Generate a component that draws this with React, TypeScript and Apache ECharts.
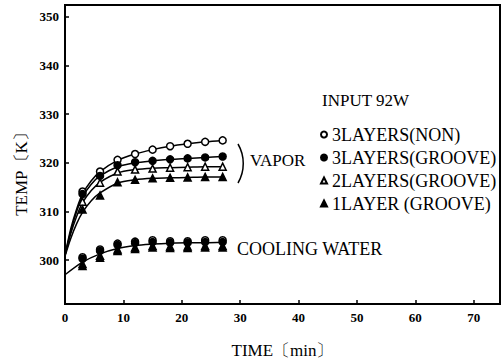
import React, { useEffect, useRef } from "react";
import * as echarts from "echarts";

// sample times (min)
const times = [3, 6, 9, 12, 15, 18, 21, 24, 27];

// vapor temperatures (K)
const vapNon = [314.1, 318.2, 320.6, 321.8, 322.7, 323.4, 323.9, 324.3, 324.6];
const vapGroove3 = [313.6, 317.3, 319.5, 320.1, 320.4, 320.7, 320.9, 321.1, 321.3];
const vapGroove2 = [312.0, 315.9, 318.2, 318.6, 318.8, 319.0, 319.1, 319.2, 319.2];
const vapGroove1 = [310.4, 313.3, 316.0, 316.5, 316.8, 316.9, 317.0, 317.1, 317.1];

// cooling water temperatures (K)
const coolNon = [300.6, 302.2, 303.4, 303.8, 304.1, 303.9, 303.9, 304.1, 304.1];
const coolGroove3 = [300.3, 301.9, 303.1, 303.5, 303.7, 303.6, 303.6, 303.7, 303.7];
const coolGroove2 = [299.2, 300.9, 302.2, 302.6, 302.9, 302.8, 302.8, 302.9, 302.9];
const coolGroove1 = [298.8, 300.5, 301.9, 302.3, 302.6, 302.5, 302.5, 302.6, 302.6];

// fitted curves
const fitTimes = [0, 1, 2, 3, 4.5, 6, 9, 12, 15, 18, 21, 24, 27];
const fitNon = [301.0, 306.5, 310.5, 313.6, 316.3, 318.2, 320.5, 321.8, 322.7, 323.4, 323.9, 324.3, 324.6];
const fitGroove3 = [301.0, 306.0, 310.0, 313.0, 315.6, 317.3, 319.2, 320.0, 320.4, 320.7, 320.9, 321.1, 321.3];
const fitGroove2 = [301.0, 305.5, 309.0, 311.8, 314.3, 316.0, 317.9, 318.6, 318.9, 319.0, 319.1, 319.2, 319.2];
const fitGroove1 = [300.8, 304.5, 307.5, 309.8, 312.2, 313.8, 315.8, 316.5, 316.8, 316.9, 317.0, 317.1, 317.1];
const coolFitTimes = [0, 3, 6, 9, 12, 15, 18, 21, 24, 27];
const coolFit = [297.0, 299.6, 301.3, 302.4, 303.0, 303.3, 303.5, 303.6, 303.6, 303.7];

const yTicks = [300, 310, 320, 330, 340, 350];
const seriesNames = ["3LAYERS(NON)", "3LAYERS(GROOVE)", "2LAYERS(GROOVE)", "1LAYER (GROOVE)"];

const SERIF = "'Liberation Serif', 'DejaVu Serif', serif";

const pairs = (xs: number[], ys: number[]) => xs.map((x, i) => [x, ys[i]]);

export default function App() {
  const ref = useRef<HTMLDivElement>(null);
  useEffect(() => {
    if (!ref.current) return;
    const chart = echarts.init(ref.current, null, { renderer: "svg" });
    const pointSets = [
      { name: seriesNames[0], symbol: "circle", fill: "#fff", data: [...pairs(times, vapNon), ...pairs(times, coolNon)] },
      { name: seriesNames[1], symbol: "circle", fill: "#000", data: [...pairs(times, vapGroove3), ...pairs(times, coolGroove3)] },
      { name: seriesNames[2], symbol: "triangle", fill: "#fff", data: [...pairs(times, vapGroove2), ...pairs(times, coolGroove2)] },
      { name: seriesNames[3], symbol: "triangle", fill: "#000", data: [...pairs(times, vapGroove1), ...pairs(times, coolGroove1)] },
    ];
    const fits = [
      pairs(fitTimes, fitNon),
      pairs(fitTimes, fitGroove3),
      pairs(fitTimes, fitGroove2),
      pairs(fitTimes, fitGroove1),
      pairs(coolFitTimes, coolFit),
    ];
    const option: any = {
      animation: false,
      backgroundColor: "#fff",
      grid: { left: 65, right: 2, top: 5, bottom: 58, show: true, borderColor: "#000", borderWidth: 2 },
      xAxis: {
        type: "value",
        min: 0,
        max: 74.5,
        interval: 10,
        name: "TIME〔min〕",
        nameLocation: "middle",
        nameGap: 38,
        nameTextStyle: { fontFamily: SERIF, fontSize: 17, color: "#000" },
        axisLine: { show: true, lineStyle: { color: "#000", width: 2 } },
        axisTick: { show: true, inside: true, length: 4, lineStyle: { color: "#000", width: 1.5 } },
        axisLabel: { fontFamily: SERIF, fontWeight: "bold", fontSize: 13, color: "#000", margin: 7, showMaxLabel: false },
        splitLine: { show: false },
      },
      yAxis: {
        type: "value",
        min: 291,
        max: 352.4,
        axisLine: { show: true, lineStyle: { color: "#000", width: 2 } },
        axisTick: { show: true, inside: true, length: 4, customValues: yTicks, lineStyle: { color: "#000", width: 1.5 } },
        axisLabel: { fontFamily: SERIF, fontWeight: "bold", fontSize: 13, color: "#000", margin: 6, customValues: yTicks },
        splitLine: { show: false },
      },
      legend: {
        data: seriesNames,
        orient: "vertical",
        left: 320,
        top: 125,
        padding: 0,
        itemWidth: 6,
        itemHeight: 6,
        itemGap: 4,
        textStyle: { fontFamily: SERIF, fontSize: 18, color: "#000", lineHeight: 19 },
        selectedMode: false,
      },
      series: [
        ...fits.map((d) => ({
          type: "line",
          data: d,
          smooth: 0.3,
          showSymbol: false,
          silent: true,
          lineStyle: { color: "#000", width: 1.5 },
          z: 1,
        })),
        ...pointSets.map((p) => ({
          type: "scatter",
          name: p.name,
          symbol: p.symbol,
          symbolSize: 7,
          data: p.data,
          itemStyle: { color: p.fill, borderColor: "#000", borderWidth: 1.5, opacity: 1 },
          z: 3,
        })),
      ],
      graphic: [
        {
          type: "text",
          x: 21,
          y: 170,
          rotation: Math.PI / 2,
          style: { text: "TEMP〔K〕", font: `17px ${SERIF}`, fill: "#000", align: "center", verticalAlign: "middle" },
        },
        { type: "text", x: 322, y: 100, style: { text: "INPUT 92W", font: `17px ${SERIF}`, fill: "#000", verticalAlign: "middle" } },
        { type: "text", x: 250, y: 160, style: { text: "VAPOR", font: `17px ${SERIF}`, fill: "#000", verticalAlign: "middle" } },
        {
          type: "bezierCurve",
          shape: { x1: 238, y1: 144, cpx1: 245, cpy1: 156, cpx2: 245, cpy2: 171, x2: 238, y2: 183 },
          style: { stroke: "#000", lineWidth: 1.5, fill: "none" },
        },
        { type: "text", x: 237, y: 249, style: { text: "COOLING WATER", font: `18px ${SERIF}`, fill: "#000", verticalAlign: "middle" } },
      ],
    };
    chart.setOption(option);
    return () => chart.dispose();
  }, []);
  return <div ref={ref} style={{ width: 502, height: 364, position: "absolute", left: 0, top: 0 }} />;
}
